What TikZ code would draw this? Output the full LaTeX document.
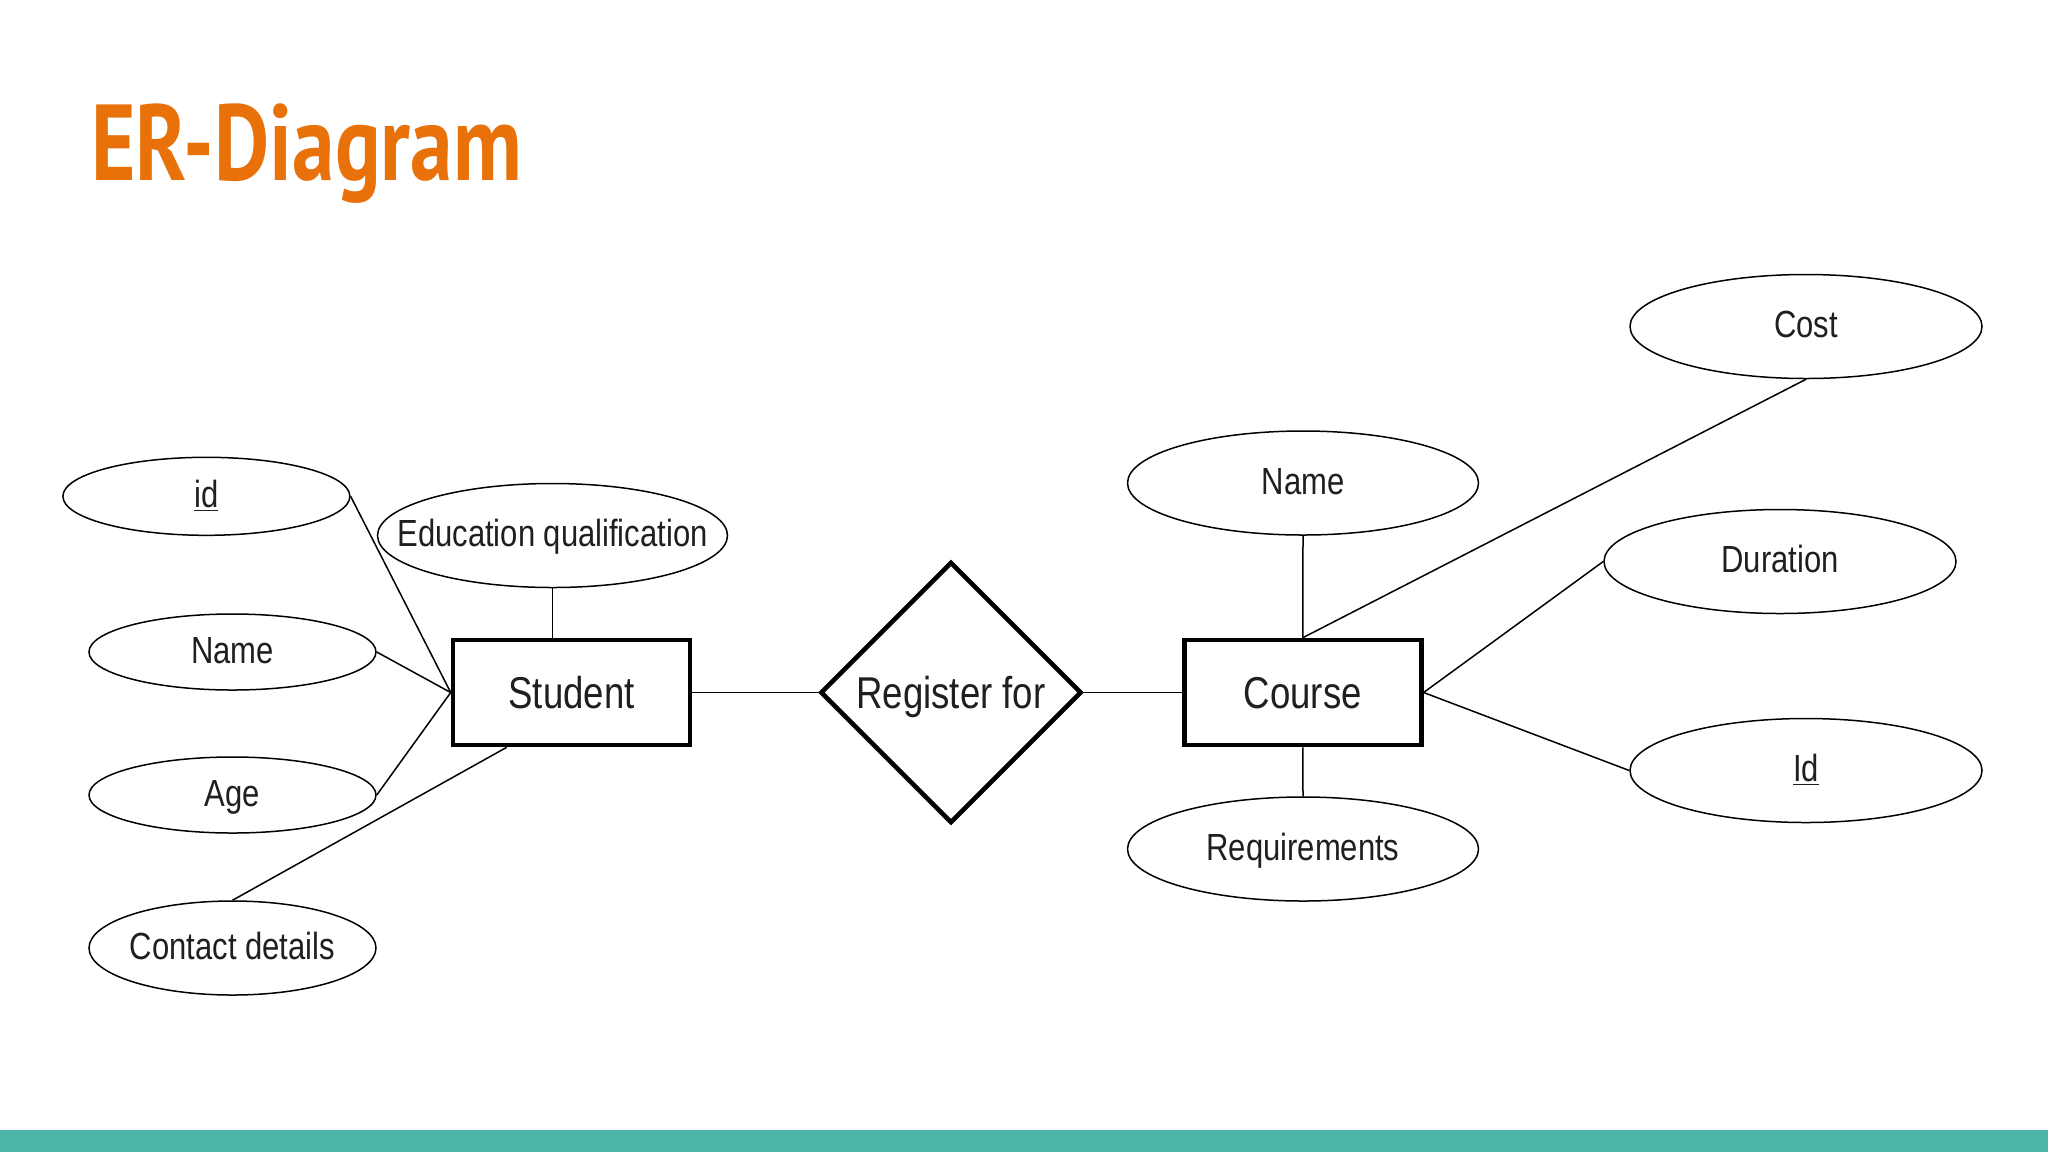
\documentclass[tikz,border=0pt]{standalone}
\usepackage{fontspec}
\setmainfont{Liberation Sans}
\newfontfamily\diafont[FakeStretch=0.82]{Liberation Sans}
\newfontfamily\titlefont[FakeStretch=0.79]{PT Sans}
\usetikzlibrary{shapes.geometric}
\definecolor{titleorange}{RGB}{232,113,10}
\definecolor{barteal}{RGB}{78,181,169}
\newcommand\zclap[1]{\makebox[0pt][c]{#1}}
\begin{document}
\begin{tikzpicture}[x=0.5pt,y=-0.5pt,
  attr/.style={draw, ellipse, line width=0.75pt, inner sep=0pt,
    text height=11pt, text depth=0pt,
    font=\diafont\fontsize{18.9}{22}\selectfont, text=black!88},
  entity/.style={draw, rectangle, line width=2.3pt, minimum width=118.5pt,
    minimum height=52.5pt, inner sep=0pt, text height=16pt, text depth=0pt,
    font=\diafont\fontsize{22.3}{26}\selectfont, text=black!88},
  rel/.style={draw, diamond, aspect=1, line width=2.3pt, minimum width=130.5pt,
    minimum height=130.5pt, inner sep=0pt, text height=16pt, text depth=0pt,
    font=\diafont\fontsize{22.3}{26}\selectfont, text=black!88},
  link/.style={line width=0.75pt}]
\useasboundingbox (0,0) rectangle (2048,1152);
\fill[white] (0,0) rectangle (2048,1152);
\fill[barteal] (0,1130) rectangle (2048,1152);

\node[anchor=base west, inner sep=0pt, text=titleorange,
  font=\titlefont\bfseries\fontsize{54}{60}\selectfont] (title) at (91,180) {ER-Diagram};

% entities and relationship
\node[entity] (student) at (571.5,692.5) {Student};
\node[rel] (reg) at (951,692.5) {Register for};
\node[entity] (course) at (1302.8,692.5) {Course};

% student attributes
\node[attr, minimum width=143.5pt, minimum height=39pt] (sid) at (206.4,496.3) {\zclap{\underline{id}}};
\node[attr, minimum width=175pt, minimum height=52pt] (edu) at (552.5,535.5) {\zclap{Education qualification}};
\node[attr, minimum width=143.5pt, minimum height=38pt] (sname) at (232.5,652) {\zclap{Name}};
\node[attr, minimum width=143.5pt, minimum height=38pt] (age) at (232.5,795) {\zclap{Age}};
\node[attr, minimum width=143.5pt, minimum height=47pt] (contact) at (232.5,948) {\zclap{Contact details}};

% course attributes
\node[attr, minimum width=175.5pt, minimum height=52pt] (cname) at (1303,483) {\zclap{Name}};
\node[attr, minimum width=175.5pt, minimum height=52pt] (req) at (1303,849) {\zclap{Requirements}};
\node[attr, minimum width=176pt, minimum height=52pt] (cost) at (1806,326.5) {\zclap{Cost}};
\node[attr, minimum width=176pt, minimum height=52pt] (dur) at (1780,561.5) {\zclap{Duration}};
\node[attr, minimum width=176pt, minimum height=52pt] (cid) at (1806,770.5) {\zclap{\underline{Id}}};

% connectors
\draw[link] (sid.east) -- (student.west);
\draw[link] (sname.east) -- (student.west);
\draw[link] (age.east) -- (student.west);
\draw[link] (contact.north) -- ([xshift=28pt]student.south west);
\draw[link] (edu.south) -- (edu.south |- student.north);
\draw[link] (student.east) -- (reg.west);
\draw[link] (reg.east) -- (course.west);
\draw[link] (cname.south) -- (course.north);
\draw[link] (cost.south) -- (course.north);
\draw[link] (dur.west) -- (course.east);
\draw[link] (cid.west) -- (course.east);
\draw[link] (req.north) -- (course.south);
\end{tikzpicture}
\end{document}
